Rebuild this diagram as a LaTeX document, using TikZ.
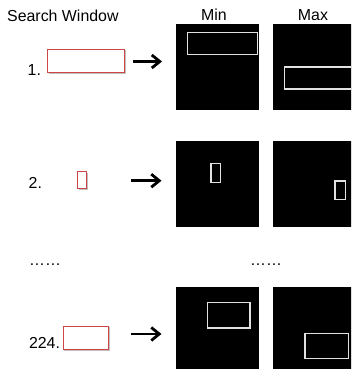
\documentclass[tikz,border=0pt]{standalone}
\usepackage{fontspec}
\setmainfont{Liberation Sans}
\usetikzlibrary{arrows.meta}
\definecolor{redbox}{RGB}{205,70,70}
\definecolor{winline}{RGB}{225,225,225}
\tikzset{
  txt/.style={inner sep=0pt, font=\fontsize{15.9}{18}\selectfont},
  blacksq/.style={fill=black, draw=none, anchor=north west, inner sep=0pt, minimum width=83.3pt, minimum height=86pt},
  win/.style={draw=winline, line width=1.3pt},
  sw/.style={draw=redbox, line width=0.8pt},
  swshadow/.style={draw=black!25, line width=1pt},
  maparrow/.style={line width=2.8pt, -{Straight Barb[length=8pt, width=13pt, line width=2.8pt]}}
}
\begin{document}
\begin{tikzpicture}[x=1pt, y=-1pt]
\useasboundingbox (0,0) rectangle (351,369);
\clip (0,0) rectangle (351,369);
% headers
\node[txt, anchor=base west] (hsw) at (7,21.7) {Search Window};
\node[txt, anchor=base] (hmin) at (214,20.7) {Min};
\node[txt, anchor=base] (hmax) at (313,20.7) {Max};
% row 1
\node[txt, anchor=base west] (l1) at (27.5,75) {1.};
\draw[swshadow] (48.5,73.6) -- (125,73.6) -- (125,50);
\draw[sw, fill=white] (47.7,49) rectangle (124.3,72.7);
\coordinate (a1s) at (132.5,61.5);
\coordinate (a1e) at (162,61.5);
\draw[maparrow] (a1s) -- (a1e);
\node[blacksq] (min1) at (175.7,24) {};
\node[blacksq] (max1) at (272.7,24) {};
\draw[win] (187.7,32.3) rectangle (257.3,54.3);
\draw[win] (284.3,67) rectangle (356,89);
% row 2
\node[txt, anchor=base west] (l2) at (28.5,188.3) {2.};
\draw[swshadow] (78.5,189.2) -- (87.5,189.2) -- (87.5,172.5);
\draw[sw, fill=white] (77.7,171.7) rectangle (86.7,188.3);
\coordinate (a2s) at (131,180.7);
\coordinate (a2e) at (161.5,180.7);
\draw[maparrow] (a2s) -- (a2e);
\node[blacksq] (min2) at (175.7,141) {};
\node[blacksq] (max2) at (272.7,141) {};
\draw[win] (211,163.3) rectangle (220.7,182.3);
\draw[win] (335,181) rectangle (345.7,199.3);
% dots
\node[txt, anchor=base west] (d1) at (29,265) {……};
\node[txt, anchor=base west] (d2) at (250,265) {……};
% row 3
\node[txt, anchor=base west] (l3) at (28.8,348.3) {224.};
\draw[swshadow] (63.8,350.6) -- (109.5,350.6) -- (109.5,327);
\draw[sw, fill=white] (63,326) rectangle (108.7,349.7);
\coordinate (a3s) at (131,334);
\coordinate (a3e) at (161.5,334);
\draw[maparrow] (a3s) -- (a3e);
\node[blacksq] (min3) at (175.7,286.7) {};
\node[blacksq] (max3) at (272.7,286.7) {};
\draw[win] (207.7,302.3) rectangle (250,328);
\draw[win] (305,333.7) rectangle (348.3,358.7);
\end{tikzpicture}
\end{document}
